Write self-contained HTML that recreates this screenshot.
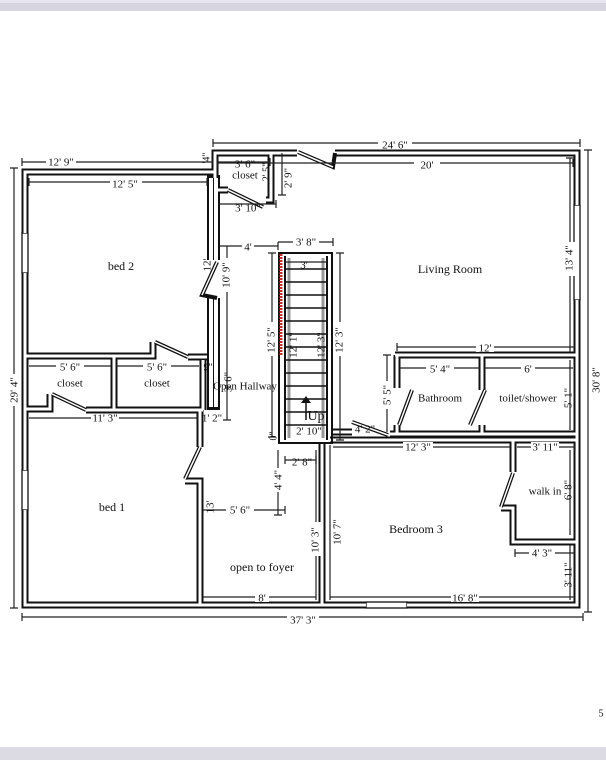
<!DOCTYPE html>
<html><head><meta charset="utf-8"><style>
html,body{margin:0;padding:0;background:#fff;width:606px;height:768px;overflow:hidden}
svg{display:block}
text{font-family:"Liberation Serif",serif;font-size:11px;fill:#111;text-anchor:middle;dominant-baseline:middle}
.d{stroke:#222;stroke-width:1.2;fill:none}
.leaf{stroke:#111;stroke-width:4;fill:none}
.leafi{stroke:#fff;stroke-width:1.5;fill:none}
</style></head><body>
<svg width="606" height="768" viewBox="0 0 606 768" xmlns="http://www.w3.org/2000/svg">
<rect x="0" y="0" width="606" height="11" fill="#d6d4de"/>
<rect x="0" y="0" width="606" height="3" fill="#e8e6f2"/>
<rect x="0" y="747" width="606" height="13" fill="#dcdbe3"/>
<text x="601" y="714" style="font-size:10px">5</text>

<!-- windows -->
<g stroke="#111" stroke-width="1.3" fill="#fff">
<rect x="574" y="205" width="6" height="95"/>
<rect x="22" y="233" width="6" height="40"/>
<rect x="22" y="470" width="6" height="40"/>
<rect x="366" y="602" width="41" height="6"/>
</g>

<g fill="none" stroke="#111" stroke-width="7">
<path d="M25,233 V172 H215 V153 H297 M335,153 H577 V205 M577,300 V605 H407 M366,605 H25 V510 M25,470 V273"/>
<path d="M215,153 V190 H228 M271,153 V200 H266"/>
<path d="M188,357 H207 M25,356 H153 V342"/>
<path d="M25,409 H50 V394 M86,410 H203"/>
<path d="M114,356 V409"/>
<path d="M203,360 V410"/>
<path d="M200,410 V447 M185,481 H200 V605"/>
<path d="M322,443 V605"/>
<path d="M330,440 H577"/>
<path d="M390,434 H577 M395,355 H577 M397,355 V388 M397,425 V434 M482,355 V390 M482,425 V434"/>
<path d="M333,432 H352"/>
<path d="M513,440 V472 M501,508 H513 V542 H577"/>
</g>
<g fill="none" stroke="#111" stroke-width="13">
<path d="M213.5,175 V260 M213.5,298 V410"/>
</g>
<g fill="none" stroke="#fff" stroke-width="3">
<path d="M25,233 V172 H215 V153 H297 M335,153 H577 V205 M577,300 V605 H407 M366,605 H25 V510 M25,470 V273"/>
<path d="M215,153 V190 H228 M271,153 V200 H266"/>
<path d="M188,357 H207 M25,356 H153 V342"/>
<path d="M25,409 H50 V394 M86,410 H203"/>
<path d="M114,356 V409"/>
<path d="M203,360 V410"/>
<path d="M200,410 V447 M185,481 H200 V605"/>
<path d="M322,443 V605"/>
<path d="M330,440 H577"/>
<path d="M390,434 H577 M395,355 H577 M397,355 V388 M397,425 V434 M482,355 V390 M482,425 V434"/>
<path d="M333,432 H352"/>
<path d="M513,440 V472 M501,508 H513 V542 H577"/>
</g>
<g fill="none" stroke="#fff" stroke-width="9">
<path d="M213.5,178 V260 M213.5,298 V407"/>
</g>
<path d="M213.5,178 V260 M213.5,298 V407" stroke="#111" stroke-width="1" fill="none"/>

<!-- door leaves -->
<g>
<path class="leaf" d="M298,152 L333,167 L335,153 M228,190 L263,207 M217,262 L202,295 L217,298 M155,342 L188,357 M52,394 L86,410 M200,447 L185,479 M412,390 L399,425 M485,390 L470,425 M352,422 L388,435 M513,473 L501,507"/>
<path class="leafi" d="M298,152 L333,167 M228,190 L263,207 M217,262 L202,295 M155,342 L188,357 M52,394 L86,410 M200,447 L185,479 M412,390 L399,425 M485,390 L470,425 M352,422 L388,435 M513,473 L501,507"/>
</g>

<!-- stairs -->
<g fill="none" stroke="#111" stroke-width="2">
<rect x="279" y="253" width="53" height="190"/>
<line x1="285" y1="256" x2="285" y2="440"/>
<line x1="327" y1="256" x2="327" y2="440"/>
</g>
<g stroke="#999" stroke-width="3"><line x1="289" y1="258" x2="289" y2="438"/><line x1="323" y1="258" x2="323" y2="438"/></g>
<g stroke="#111" stroke-width="1.5">
<line x1="285" y1="269" x2="327" y2="269"/><line x1="285" y1="282" x2="327" y2="282"/><line x1="285" y1="295" x2="327" y2="295"/><line x1="285" y1="308" x2="327" y2="308"/><line x1="285" y1="321" x2="327" y2="321"/><line x1="285" y1="334" x2="327" y2="334"/><line x1="285" y1="347" x2="327" y2="347"/><line x1="285" y1="360" x2="327" y2="360"/><line x1="285" y1="373" x2="327" y2="373"/><line x1="285" y1="386" x2="327" y2="386"/><line x1="285" y1="399" x2="327" y2="399"/><line x1="285" y1="412" x2="327" y2="412"/><line x1="285" y1="425" x2="327" y2="425"/>
</g>
<line x1="281" y1="254" x2="281" y2="355" stroke="#c0302f" stroke-width="3" stroke-dasharray="2,1"/>
<line x1="306" y1="420" x2="306" y2="402" stroke="#111" stroke-width="1.5"/>
<path d="M301,403 L306,396 L311,403 Z" fill="#111"/>

<!-- dimension lines -->
<g class="d">
<path d="M213,143 H580 M213,139 V147 M580,139 V147"/>
<path d="M218,163 H573 M218,159 V167 M573,159 V167"/>
<path d="M22,162 H213 M22,158 V166"/>
<path d="M29,182 H207 M29,178 V186 M207,178 V186"/>
<path d="M218,162 H270 M270,158 V166"/>
<path d="M282,153 V195 M278,195 H286"/>
<path d="M218,204 H276 M276,200 V208"/>
<path d="M220,246 H278 M278,242 V250"/>
<path d="M278,242 H333 M333,238 V246"/>
<path d="M285,262 H327"/>
<path d="M227,246 V420 M223,420 H231"/>
<path d="M272,253 V437 M268,253 H276 M268,437 H276"/>
<path d="M340,253 V440 M336,253 H344 M336,440 H344"/>
<path d="M570,158 V352 M566,158 H574"/>
<path d="M397,347 H575 M397,343 V351"/>
<path d="M14,168 V608 M10,168 H18 M10,608 H18"/>
<path d="M588,150 V612 M584,150 H592 M584,612 H592"/>
<path d="M29,366 H111 M116,366 H199"/>
<path d="M400,368 H480 M485,368 H573"/>
<path d="M387,355 V432 M383,355 H391"/>
<path d="M29,418 H197 M197,414 V422"/>
<path d="M333,447 H510 M517,447 H575 M575,443 V451"/>
<path d="M285,460 H316 M285,456 V464 M316,456 V464"/>
<path d="M278,450 V515 M274,515 H282"/>
<path d="M203,510 H285 M285,506 V514"/>
<path d="M316,450 V600 M330,445 V600"/>
<path d="M515,553 H575 M515,549 V557"/>
<path d="M570,545 V600 M570,450 V535 M570,360 V430"/>
<path d="M203,597 H316 M330,597 H575"/>
<path d="M22,617 H583 M22,613 V621 M583,613 V621"/>
</g>

<!-- labels -->
<g>
<rect x="378" y="140" width="34" height="9" fill="#fff"/><text x="395" y="146">24' 6"</text>
<rect x="414" y="160" width="26" height="8" fill="#fff"/><text x="427" y="166">20'</text>
<rect x="46" y="157" width="30" height="10" fill="#fff"/><text x="61" y="163">12' 9"</text>
<rect x="110" y="177" width="32" height="10" fill="#fff"/><text x="125" y="185">12' 5"</text>
<text x="207" y="158" transform="rotate(-90 207 158)" style="font-size:10px">'4"</text>
<text x="245" y="165">3' 6"</text>
<text x="245" y="176">closet</text>
<text x="267" y="172" transform="rotate(-90 267 172)" style="font-size:10px">2' 5"</text>
<text x="289" y="178" transform="rotate(-90 289 178)">2' 9"</text>
<text x="248" y="209">3' 10"</text>
<rect x="242" y="241" width="12" height="10" fill="#fff"/><text x="248" y="248">4'</text>
<rect x="293" y="237" width="26" height="10" fill="#fff"/><text x="306" y="243">3' 8"</text>
<text x="304" y="266">3'</text>
<text x="208" y="265" transform="rotate(-90 208 265)">12'</text>
<rect x="222" y="258" width="10" height="34" fill="#fff"/><text x="227" y="275" transform="rotate(-90 227 275)">10' 9"</text>
<text x="121" y="267" style="font-size:12px">bed 2</text>
<text x="450" y="270" style="font-size:12px">Living Room</text>
<rect x="267" y="322" width="10" height="34" fill="#fff"/><text x="272" y="340" transform="rotate(-90 272 340)">12' 5"</text>
<text x="294" y="345" transform="rotate(-90 294 345)">12' 1"</text>
<text x="322" y="345" transform="rotate(-90 322 345)">12' 3"</text>
<rect x="335" y="322" width="10" height="34" fill="#fff"/><text x="340" y="340" transform="rotate(-90 340 340)">12' 3"</text>
<rect x="565" y="242" width="10" height="34" fill="#fff"/><text x="570" y="258" transform="rotate(-90 570 258)">13' 4"</text>
<rect x="476" y="342" width="18" height="10" fill="#fff"/><text x="485" y="349">12'</text>
<rect x="592" y="364" width="10" height="32" fill="#fff"/><text x="597" y="380" transform="rotate(-90 597 380)">30' 8"</text>
<rect x="10" y="374" width="10" height="32" fill="#fff"/><text x="15" y="390" transform="rotate(-90 15 390)">29' 4"</text>
<rect x="56" y="362" width="28" height="9" fill="#fff"/><text x="70" y="368">5' 6"</text>
<text x="70" y="384">closet</text>
<rect x="143" y="362" width="28" height="9" fill="#fff"/><text x="157" y="368">5' 6"</text>
<text x="157" y="384">closet</text>
<text x="208" y="368" style="font-size:10px">9"</text>
<text x="229" y="382" transform="rotate(-90 229 382)">3' 6"</text>
<text x="245" y="387">Open Hallway</text>
<rect x="426" y="364" width="28" height="9" fill="#fff"/><text x="440" y="370">5' 4"</text>
<rect x="521" y="364" width="14" height="9" fill="#fff"/><text x="528" y="370">6'</text>
<rect x="382" y="381" width="10" height="28" fill="#fff"/><text x="388" y="395" transform="rotate(-90 388 395)">5' 5"</text>
<text x="440" y="399">Bathroom</text>
<text x="528" y="399">toilet/shower</text>
<text x="569" y="398" transform="rotate(-90 569 398)">5' 1"</text>
<text x="316" y="417" style="font-size:14px">Up</text>
<text x="309" y="432">2' 10"</text>
<text x="365" y="430">4' 2"</text>
<rect x="91" y="414" width="28" height="9" fill="#fff"/><text x="105" y="419">11' 3"</text>
<text x="212" y="419">1' 2"</text>
<text x="274" y="436" transform="rotate(-90 274 436)" style="font-size:10px">0"</text>
<rect x="403" y="442" width="30" height="10" fill="#fff"/><text x="418" y="448">12' 3"</text>
<rect x="531" y="442" width="28" height="10" fill="#fff"/><text x="545" y="448">3' 11"</text>
<text x="302" y="463">2' 8"</text>
<rect x="274" y="468" width="9" height="24" fill="#fff"/><text x="279" y="480" transform="rotate(-90 279 480)">4' 4"</text>
<text x="545" y="492">walk in</text>
<text x="569" y="490" transform="rotate(-90 569 490)">6' 8"</text>
<text x="112" y="508" style="font-size:12px">bed 1</text>
<text x="211" y="507" transform="rotate(-90 211 507)">13'</text>
<rect x="226" y="505" width="28" height="10" fill="#fff"/><text x="240" y="511">5' 6"</text>
<rect x="311" y="522" width="10" height="34" fill="#fff"/><text x="316" y="540" transform="rotate(-90 316 540)">10' 3"</text>
<rect x="333" y="515" width="10" height="34" fill="#fff"/><text x="338" y="532" transform="rotate(-90 338 532)">10' 7"</text>
<text x="416" y="530" style="font-size:12px">Bedroom 3</text>
<rect x="529" y="548" width="26" height="10" fill="#fff"/><text x="542" y="554">4' 3"</text>
<text x="569" y="575" transform="rotate(-90 569 575)">3' 11"</text>
<text x="262" y="568" style="font-size:12px">open to foyer</text>
<rect x="255" y="593" width="14" height="9" fill="#fff"/><text x="262" y="599">8'</text>
<rect x="451" y="593" width="28" height="9" fill="#fff"/><text x="465" y="599">16' 8"</text>
<rect x="287" y="612" width="32" height="10" fill="#fff"/><text x="303" y="621">37' 3"</text>
</g>
</svg>
</body></html>
